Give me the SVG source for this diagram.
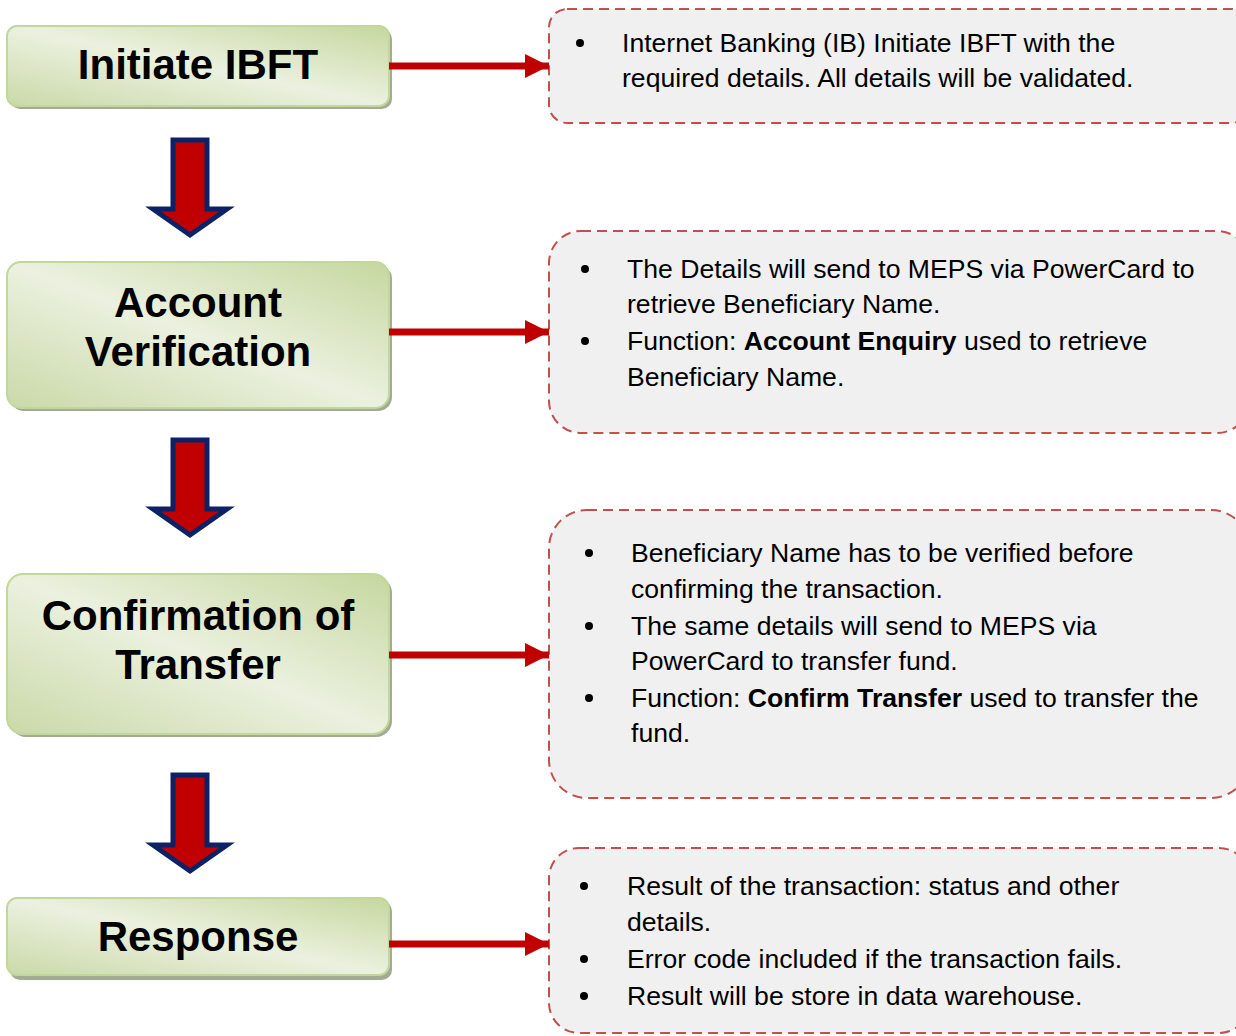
<svg xmlns="http://www.w3.org/2000/svg" width="1236" height="1036" viewBox="0 0 1236 1036">
<defs>
<linearGradient id="g" x1="0" y1="1" x2="1" y2="0">
<stop offset="0" stop-color="#cad9a8"/>
<stop offset="0.5" stop-color="#ebf1df"/>
<stop offset="1" stop-color="#c6d79f"/>
</linearGradient>
<marker id="ah" markerWidth="24" markerHeight="24" viewBox="0 0 24 24" refX="24" refY="12" orient="auto" markerUnits="userSpaceOnUse">
<path d="M0 0 L24 12 L0 24 Z" fill="#c00000"/>
</marker>
<style>
.sh{fill:#a3ab92}
.bx{fill:url(#g);stroke:#c3d69b;stroke-width:2}
.tt{font-family:"Liberation Sans",Arial,sans-serif;font-weight:bold;font-size:42px;fill:#000;text-anchor:middle}
.db{fill:#f0f0f0;stroke:#c0504d;stroke-width:2;stroke-dasharray:10 6}
.tx{font-family:"Liberation Sans",Arial,sans-serif;font-size:26.6px;fill:#000}
.b{font-weight:bold}
.conn{stroke:#c00000;stroke-width:7;fill:none}
.da{fill:#c00000;stroke:#0c2266;stroke-width:5;stroke-linejoin:miter}
</style>
</defs>

<g id="node-initiate">
<rect class="sh" x="10" y="29" width="382" height="80" rx="10"/>
<rect class="bx" x="7" y="26" width="382" height="80" rx="10"/>
<text class="tt" x="198" y="79">Initiate IBFT</text>
</g>
<g id="node-account">
<rect class="sh" x="10" y="265" width="382" height="146" rx="14"/>
<rect class="bx" x="7" y="262" width="382" height="146" rx="14"/>
<text class="tt" x="198" y="317">Account</text>
<text class="tt" x="198" y="366">Verification</text>
</g>
<g id="node-confirm">
<rect class="sh" x="10" y="577" width="382" height="160" rx="16"/>
<rect class="bx" x="7" y="574" width="382" height="160" rx="16"/>
<text class="tt" x="198" y="630">Confirmation of</text>
<text class="tt" x="198" y="679">Transfer</text>
</g>
<g id="node-response">
<rect class="sh" x="10" y="901" width="382" height="79" rx="10"/>
<rect class="bx" x="7" y="898" width="382" height="77" rx="10"/>
<text class="tt" x="198" y="951">Response</text>
</g>

<g id="note-1">
<rect class="db" x="549" y="9" width="700" height="114" rx="18"/>
<circle cx="580" cy="43" r="4"/>
<text class="tx" x="622" y="52">Internet Banking (IB) Initiate IBFT with the</text>
<text class="tx" x="622" y="87">required details. All details will be validated.</text>
</g>
<g id="note-2">
<rect class="db" x="549" y="231" width="700" height="202" rx="32"/>
<circle cx="585" cy="269" r="4"/>
<text class="tx" x="627" y="278">The Details will send to MEPS via PowerCard to</text>
<text class="tx" x="627" y="313">retrieve Beneficiary Name.</text>
<circle cx="585" cy="341" r="4"/>
<text class="tx" x="627" y="350">Function: <tspan class="b">Account Enquiry</tspan> used to retrieve</text>
<text class="tx" x="627" y="386">Beneficiary Name.</text>
</g>
<g id="note-3">
<rect class="db" x="549" y="510" width="700" height="288" rx="38"/>
<circle cx="589" cy="553" r="4"/>
<text class="tx" x="631" y="562">Beneficiary Name has to be verified before</text>
<text class="tx" x="631" y="598">confirming the transaction.</text>
<circle cx="589" cy="626" r="4"/>
<text class="tx" x="631" y="635">The same details will send to MEPS via</text>
<text class="tx" x="631" y="670">PowerCard to transfer fund.</text>
<circle cx="589" cy="698" r="4"/>
<text class="tx" x="631" y="707">Function: <tspan class="b">Confirm Transfer</tspan> used to transfer the</text>
<text class="tx" x="631" y="742">fund.</text>
</g>
<g id="note-4">
<rect class="db" x="549" y="848" width="700" height="185" rx="30"/>
<circle cx="584" cy="886" r="4"/>
<text class="tx" x="627" y="895">Result of the transaction: status and other</text>
<text class="tx" x="627" y="931">details.</text>
<circle cx="584" cy="959" r="4"/>
<text class="tx" x="627" y="968">Error code included if the transaction fails.</text>
<circle cx="584" cy="996" r="4"/>
<text class="tx" x="627" y="1005">Result will be store in data warehouse.</text>
</g>

<g id="connectors">
<line class="conn" x1="389" y1="66" x2="549" y2="66" marker-end="url(#ah)"/>
<line class="conn" x1="389" y1="332" x2="549" y2="332" marker-end="url(#ah)"/>
<line class="conn" x1="389" y1="655" x2="549" y2="655" marker-end="url(#ah)"/>
<line class="conn" x1="389" y1="944" x2="549" y2="944" marker-end="url(#ah)"/>
<polygon class="da" points="173,140 207,140 207,209 227,209 190,235 153,209 173,209"/>
<polygon class="da" points="173,440 207,440 207,509 227,509 190,535 153,509 173,509"/>
<polygon class="da" points="173,775 207,775 207,845 227,845 190,871 153,845 173,845"/>
</g>
</svg>
